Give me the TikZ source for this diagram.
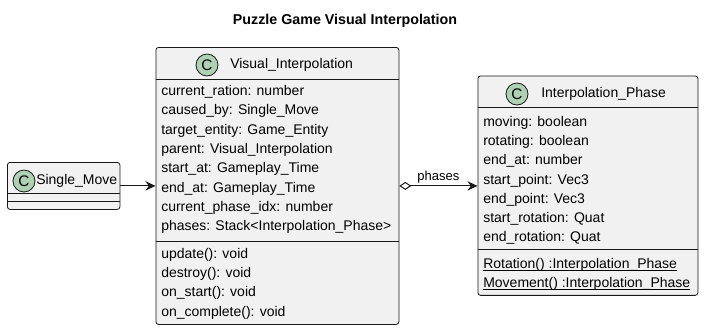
\documentclass[tikz,border=0pt]{standalone}
\usepackage{fontspec}
\setmainfont{Liberation Sans}
\usetikzlibrary{arrows.meta}
\definecolor{boxfill}{HTML}{F1F1F1}
\definecolor{edge}{HTML}{181818}
\definecolor{badgefill}{HTML}{ADD1B2}
% underline drawn just below the baseline, through descenders
\newcommand{\statictext}[1]{\setbox0\hbox{#1}\rlap{\rule[-1.6pt]{\wd0}{0.55pt}}\box0}
\begin{document}
\begin{tikzpicture}[x=0.75pt,y=-0.75pt,
  cls/.style={draw=edge, fill=boxfill, rounded corners=2pt, line width=0.6pt,
    anchor=north west, inner sep=0pt},
  sep/.style={draw=edge, line width=0.6pt},
  badge/.style={circle, draw=edge, fill=badgefill, line width=0.6pt,
    minimum size=16.5pt, inner sep=0pt, font=\fontsize{11.5}{12}\selectfont},
  clsname/.style={anchor=west, inner sep=0pt, font=\fontsize{10.5}{12}\selectfont},
  member/.style={anchor=west, inner sep=0pt, font=\fontsize{10.5}{12}\selectfont},
  link/.style={draw=edge, line width=0.75pt},
  head/.style={-{Stealth[length=7.5pt, width=7pt, inset=2.5pt]}},
]
\useasboundingbox[fill=white] (0,0) rectangle (704,330);

% title
\node[font=\bfseries\fontsize{10.7}{12}\selectfont] (title) at (345,21)
  {Puzzle Game Visual Interpolation};

% ---- Single_Move ----
\node[cls, minimum width=84.4pt, minimum height=35.25pt] (sm) at (7,162) {};
\draw[sep] (sm.west |- 0,193) -- (sm.east |- 0,193);
\draw[sep] (sm.west |- 0,201) -- (sm.east |- 0,201);
\node[badge] (smc) at (24,181) {C};
\node[clsname] (smn) at (36,181) {Single\_Move};

% ---- Visual_Interpolation ----
\node[cls, minimum width=182.25pt, minimum height=207.75pt] (vi) at (155.5,47) {};
\draw[sep] (vi.west |- 0,79) -- (vi.east |- 0,79);
\draw[sep] (vi.west |- 0,241) -- (vi.east |- 0,241);
\node[badge] (vic) at (207,65) {C};
\node[clsname] (vin) at (230,65) {Visual\_Interpolation};
\node[member] (vi1) at (161,92)  {current\_ration: number};
\node[member] (vi2) at (161,111.3) {caused\_by: Single\_Move};
\node[member] (vi3) at (161,130.6) {target\_entity: Game\_Entity};
\node[member] (vi4) at (161,149.9) {parent: Visual\_Interpolation};
\node[member] (vi5) at (161,169.2) {start\_at: Gameplay\_Time};
\node[member] (vi6) at (161,188.5) {end\_at: Gameplay\_Time};
\node[member] (vi7) at (161,207.8) {current\_phase\_idx: number};
\node[member] (vi8) at (161,227.1) {phases: Stack<Interpolation\_Phase>};
\node[member] (vm1) at (161,254.5) {update(): void};
\node[member] (vm2) at (161,273.8) {destroy(): void};
\node[member] (vm3) at (161,293.1) {on\_start(): void};
\node[member] (vm4) at (161,312.4) {on\_complete(): void};

% ---- Interpolation_Phase ----
\node[cls, minimum width=165pt, minimum height=164.6pt] (ip) at (477.5,75.5) {};
\draw[sep] (ip.west |- 0,107) -- (ip.east |- 0,107);
\draw[sep] (ip.west |- 0,249) -- (ip.east |- 0,249);
\node[badge] (ipc) at (517,94) {C};
\node[clsname] (ipn) at (541,94) {Interpolation\_Phase};
\node[member] (ip1) at (483,122.5) {moving: boolean};
\node[member] (ip2) at (483,141.8) {rotating: boolean};
\node[member] (ip3) at (483,161.1) {end\_at: number};
\node[member] (ip4) at (483,180.4) {start\_point: Vec3};
\node[member] (ip5) at (483,199.7) {end\_point: Vec3};
\node[member] (ip6) at (483,219) {start\_rotation: Quat};
\node[member] (ip7) at (483,238.3) {end\_rotation: Quat};
\node[member] (im1) at (483,264.5) {\statictext{Rotation() :Interpolation\_Phase}};
\node[member] (im2) at (483,283.8) {\statictext{Movement() :Interpolation\_Phase}};

% ---- connectors ----
\draw[link, head] (sm.east) -- (sm.east -| vi.west);
\draw[link, {Diamond[open, length=9pt, width=6pt]}-{Stealth[length=7.5pt, width=7pt, inset=2.5pt]}]
  (vi.east) -- (vi.east -| ip.west)
  node[midway, above=1pt, inner sep=1pt, font=\fontsize{9.75}{11}\selectfont] (lbl) {phases};
\end{tikzpicture}
\end{document}
